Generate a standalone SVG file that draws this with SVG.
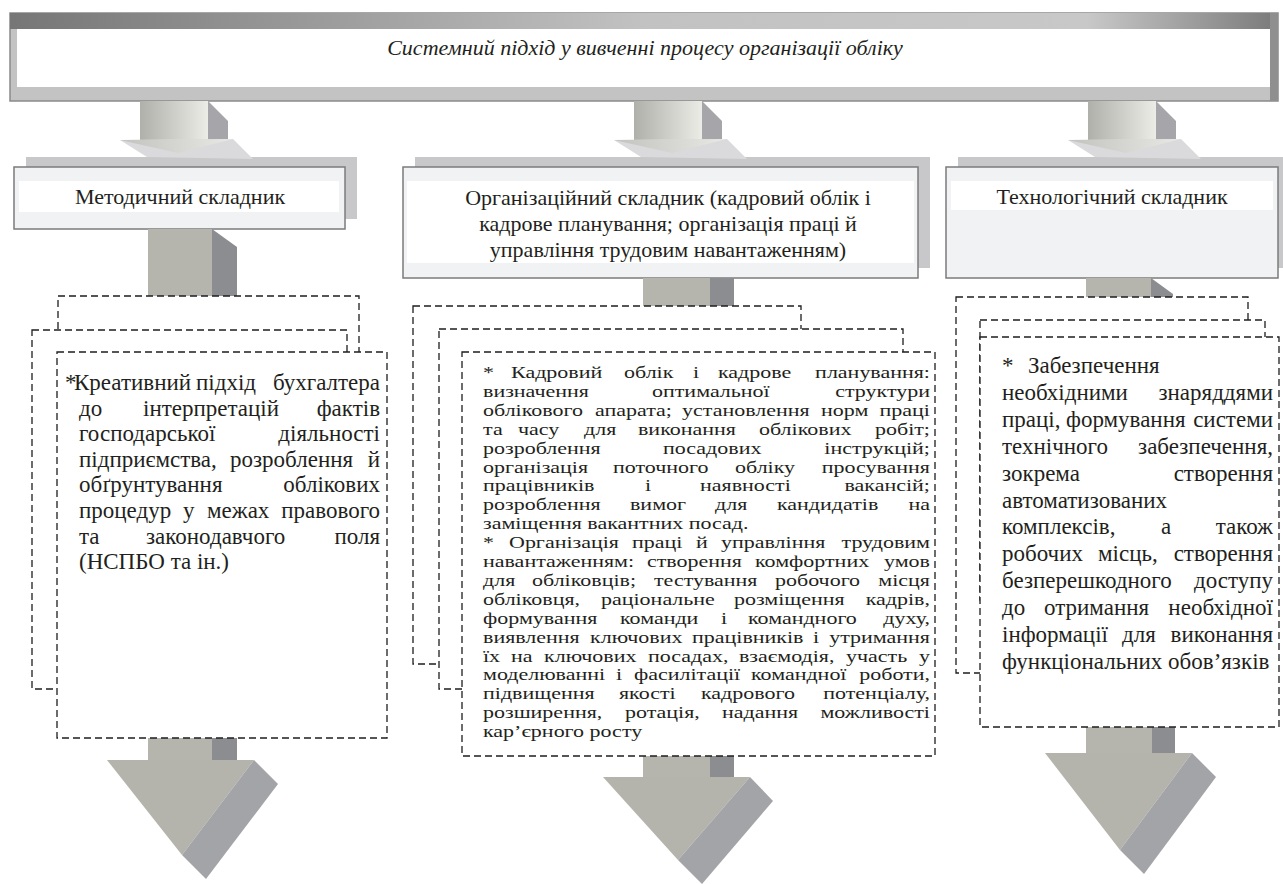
<svg xmlns="http://www.w3.org/2000/svg" width="1283" height="884" viewBox="0 0 1283 884">
<defs>
  <linearGradient id="topBand" x1="0" y1="0" x2="1" y2="0">
    <stop offset="0" stop-color="#767676"/>
    <stop offset="0.5" stop-color="#c2c2c2"/>
    <stop offset="0.85" stop-color="#c8c8c8"/>
    <stop offset="1" stop-color="#7a7a7a"/>
  </linearGradient>
  <linearGradient id="shaft" x1="0" y1="0" x2="1" y2="0">
    <stop offset="0" stop-color="#b0b0aa"/>
    <stop offset="1" stop-color="#ecece6"/>
  </linearGradient>
  <linearGradient id="chev" x1="0" y1="0" x2="1" y2="0">
    <stop offset="0" stop-color="#c2c2be"/>
    <stop offset="1" stop-color="#e8e8e4"/>
  </linearGradient>
</defs>
<style>
  .hdr-shadow{fill:#c8c8ca}
  .hdr-box{fill:#f1f2f4;stroke:#7b7b7b;stroke-width:1.5}
  .hdr-band{fill:#ffffff}
  .dash{fill:#ffffff;stroke:#1e1e1e;stroke-width:1.3;stroke-dasharray:7 4}
  .t{font-family:"Liberation Serif","DejaVu Serif","Times New Roman",serif;fill:#231f20}
  .h{font-size:22px}
  .b23{font-size:23px}
  .b22{font-size:22px}
  .s-light{fill:#b5b5ad}
  .s-dark{fill:#8c8d91}
  .h-light{fill:#b4b4ac}
  .h-dark{fill:#a3a4a8}
  .up-dark{fill:#a6a6aa}
  .chev-low{fill:#dadadc}
</style>

<g id="banner">
  <rect x="10" y="13" width="1268" height="88" fill="#c3c3c3" stroke="#8a8a8a" stroke-width="1.5"/>
  <rect x="10" y="13" width="1268" height="16" fill="url(#topBand)"/>
  <rect x="1270" y="13" width="8" height="88" fill="#8f8f8f"/>
  <rect x="17" y="29" width="1253" height="58" fill="#ffffff"/>
  <text class="t" x="645" y="55" font-size="22" font-style="italic" text-anchor="middle" font-family="Liberation Serif, DejaVu Serif, serif">Системний підхід у вивченні процесу організації обліку</text>
</g>

<g id="header-method">
  <rect class="hdr-shadow" x="26" y="157" width="331" height="62"/>
  <rect class="hdr-box" x="14" y="167" width="331" height="62"/>
  <rect class="hdr-band" x="19" y="181" width="320" height="31"/>
  <text class="t h" x="180" y="204" text-anchor="middle">Методичний складник</text>
</g>

<g id="header-org">
  <rect class="hdr-shadow" x="415" y="157" width="515" height="111"/>
  <rect class="hdr-box" x="403" y="167" width="515" height="111"/>
  <rect class="hdr-band" x="407" y="181" width="507" height="82"/>
  <text class="t h" x="668" y="205" text-anchor="middle">Організаційний складник (кадровий облік і</text>
  <text class="t h" x="668" y="231" text-anchor="middle">кадрове планування; організація праці й</text>
  <text class="t h" x="668" y="257" text-anchor="middle">управління трудовим навантаженням)</text>
</g>

<g id="header-tech">
  <rect class="hdr-shadow" x="958" y="157" width="332" height="111"/>
  <rect class="hdr-box" x="946" y="167" width="332" height="111"/>
  <rect class="hdr-band" x="951" y="181" width="322" height="29"/>
  <text class="t h" x="1112" y="204" text-anchor="middle">Технологічний складник</text>
</g>

<g id="connectors">
  <rect x="140" y="101" width="68" height="41" fill="url(#shaft)"/>
  <polygon class="up-dark" points="208,101 228,121 228,142 208,142"/>
  <polygon class="chev-low" points="120,140 147,157 253,159 233,139"/>
  <polygon fill="url(#chev)" points="120,140 233,139 178,153"/>

  <rect x="634" y="101" width="68" height="41" fill="url(#shaft)"/>
  <polygon class="up-dark" points="702,101 722,121 722,142 702,142"/>
  <polygon class="chev-low" points="614,140 641,157 747,159 727,139"/>
  <polygon fill="url(#chev)" points="614,140 727,139 672,153"/>

  <rect x="1088" y="101" width="68" height="41" fill="url(#shaft)"/>
  <polygon class="up-dark" points="1156,101 1176,121 1176,142 1156,142"/>
  <polygon class="chev-low" points="1068,140 1095,157 1201,159 1181,139"/>
  <polygon fill="url(#chev)" points="1068,140 1181,139 1126,153"/>

  <rect class="s-light" x="148" y="229" width="64" height="67"/>
  <polygon class="s-dark" points="212,229 237,247 237,296 212,296"/>
  <rect class="s-light" x="643" y="278" width="67" height="28"/>
  <rect class="s-dark" x="710" y="278" width="24" height="28"/>
  <rect class="s-light" x="1086" y="278" width="65" height="19"/>
  <polygon class="s-dark" points="1151,278 1173,294 1173,297 1151,297"/>

  <rect class="s-light" x="148" y="738" width="64" height="22"/>
  <rect class="s-dark" x="212" y="738" width="25" height="22"/>
  <polygon class="h-light" points="107,760 254,760 182,855"/>
  <polygon class="h-dark" points="254,760 278,784 206,879 182,855"/>

  <rect class="s-light" x="643" y="756" width="67" height="21"/>
  <rect class="s-dark" x="710" y="756" width="24" height="21"/>
  <polygon class="h-light" points="603,777 750,777 678,860"/>
  <polygon class="h-dark" points="750,777 773,801 702,884 678,860"/>

  <rect class="s-light" x="1086" y="727" width="66" height="26"/>
  <rect class="s-dark" x="1152" y="727" width="23" height="26"/>
  <polygon class="h-light" points="1045,753 1192,753 1120,850"/>
  <polygon class="h-dark" points="1192,753 1216,777 1144,874 1120,850"/>
</g>

<g id="detail-method">
  <rect class="dash" x="58" y="296" width="301" height="304"/>
  <rect class="dash" x="32" y="330" width="315" height="359"/>
  <rect class="dash" x="57" y="352" width="330" height="386"/>
  <text class="t b23" y="390"><tspan x="65">*</tspan><tspan x="74">Креативний</tspan><tspan x="196">підхід</tspan><tspan x="380" text-anchor="end">бухгалтера</tspan></text>
  <text class="t b23" y="415.6"><tspan x="79">до</tspan><tspan x="143">інтерпретацій</tspan><tspan x="380" text-anchor="end">фактів</tspan></text>
  <text class="t b23" y="441.2"><tspan x="79">господарської</tspan><tspan x="380" text-anchor="end">діяльності</tspan></text>
  <text class="t b23" y="466.8"><tspan x="79">підприємства,</tspan><tspan x="230">розроблення</tspan><tspan x="380" text-anchor="end">й</tspan></text>
  <text class="t b23" y="492.4"><tspan x="79">обґрунтування</tspan><tspan x="380" text-anchor="end">облікових</tspan></text>
  <text class="t b23" y="518"><tspan x="79">процедур</tspan><tspan x="183">у</tspan><tspan x="207">межах</tspan><tspan x="380" text-anchor="end">правового</tspan></text>
  <text class="t b23" y="543.6"><tspan x="79">та</tspan><tspan x="146">законодавчого</tspan><tspan x="380" text-anchor="end">поля</tspan></text>
  <text class="t b23" x="79" y="569.2">(НСПБО та ін.)</text>
</g>

<g id="detail-org">
  <rect class="dash" x="413" y="306" width="388" height="358"/>
  <rect class="dash" x="439" y="329" width="464" height="360"/>
  <rect class="dash" x="462" y="352" width="473" height="404"/>
  <g transform="scale(1 0.78)">
  <text class="t b22" y="484.6"><tspan x="483">*</tspan><tspan x="511">Кадровий</tspan><tspan x="624">облік</tspan><tspan x="693">і</tspan><tspan x="718">кадрове</tspan><tspan x="930" text-anchor="end">планування:</tspan></text>
  <text class="t b22" y="508.8"><tspan x="483">визначення</tspan><tspan x="652">оптимальної</tspan><tspan x="930" text-anchor="end">структури</tspan></text>
  <text class="t b22" y="533.1"><tspan x="483">облікового</tspan><tspan x="595">апарата;</tspan><tspan x="682">установлення</tspan><tspan x="821">норм</tspan><tspan x="930" text-anchor="end">праці</tspan></text>
  <text class="t b22" y="557.3"><tspan x="483">та</tspan><tspan x="518">часу</tspan><tspan x="584">для</tspan><tspan x="638">виконання</tspan><tspan x="759">облікових</tspan><tspan x="930" text-anchor="end">робіт;</tspan></text>
  <text class="t b22" y="581.5"><tspan x="483">розроблення</tspan><tspan x="663">посадових</tspan><tspan x="930" text-anchor="end">інструкцій;</tspan></text>
  <text class="t b22" y="605.8"><tspan x="483">організація</tspan><tspan x="613">поточного</tspan><tspan x="735">обліку</tspan><tspan x="930" text-anchor="end">просування</tspan></text>
  <text class="t b22" y="630"><tspan x="483">працівників</tspan><tspan x="645">і</tspan><tspan x="700">наявності</tspan><tspan x="930" text-anchor="end">вакансій;</tspan></text>
  <text class="t b22" y="654.2"><tspan x="483">розроблення</tspan><tspan x="630">вимог</tspan><tspan x="715">для</tspan><tspan x="777">кандидатів</tspan><tspan x="930" text-anchor="end">на</tspan></text>
  <text class="t b22" x="483" y="678.5">заміщення вакантних посад.</text>
  <text class="t b22" y="702.7"><tspan x="483">*</tspan><tspan x="509">Організація</tspan><tspan x="632">праці</tspan><tspan x="696">й</tspan><tspan x="721">управління</tspan><tspan x="930" text-anchor="end">трудовим</tspan></text>
  <text class="t b22" y="726.9"><tspan x="483">навантаженням:</tspan><tspan x="647">створення</tspan><tspan x="755">комфортних</tspan><tspan x="930" text-anchor="end">умов</tspan></text>
  <text class="t b22" y="751.1"><tspan x="483">для</tspan><tspan x="532">обліковців;</tspan><tspan x="654">тестування</tspan><tspan x="775">робочого</tspan><tspan x="930" text-anchor="end">місця</tspan></text>
  <text class="t b22" y="775.4"><tspan x="483">обліковця,</tspan><tspan x="601">раціональне</tspan><tspan x="734">розміщення</tspan><tspan x="930" text-anchor="end">кадрів,</tspan></text>
  <text class="t b22" y="799.6"><tspan x="483">формування</tspan><tspan x="620">команди</tspan><tspan x="721">і</tspan><tspan x="748">командного</tspan><tspan x="930" text-anchor="end">духу,</tspan></text>
  <text class="t b22" y="823.8"><tspan x="483">виявлення</tspan><tspan x="590">ключових</tspan><tspan x="692">працівників</tspan><tspan x="813">і</tspan><tspan x="930" text-anchor="end">утримання</tspan></text>
  <text class="t b22" y="848.1"><tspan x="483">їх</tspan><tspan x="511">на</tspan><tspan x="544">ключових</tspan><tspan x="648">посадах,</tspan><tspan x="739">взаємодія,</tspan><tspan x="846">участь</tspan><tspan x="930" text-anchor="end">у</tspan></text>
  <text class="t b22" y="872.3"><tspan x="483">моделюванні</tspan><tspan x="616">і</tspan><tspan x="634">фасилітації</tspan><tspan x="751">командної</tspan><tspan x="930" text-anchor="end">роботи,</tspan></text>
  <text class="t b22" y="896.5"><tspan x="483">підвищення</tspan><tspan x="619">якості</tspan><tspan x="701">кадрового</tspan><tspan x="930" text-anchor="end">потенціалу,</tspan></text>
  <text class="t b22" y="920.8"><tspan x="483">розширення,</tspan><tspan x="625">ротація,</tspan><tspan x="722">надання</tspan><tspan x="930" text-anchor="end">можливості</tspan></text>
  <text class="t b22" x="483" y="945">кар’єрного росту</text>
  </g>
</g>

<g id="detail-tech">
  <rect class="dash" x="956" y="297" width="292" height="376"/>
  <rect class="dash" x="980" y="320" width="285" height="280"/>
  <rect class="dash" x="980" y="337" width="299" height="390"/>
  <text class="t b23" y="373"><tspan x="1002">*</tspan><tspan x="1028">Забезпечення</tspan></text>
  <text class="t b23" y="399.9"><tspan x="1002">необхідними</tspan><tspan x="1273" text-anchor="end">знаряддями</tspan></text>
  <text class="t b23" y="426.8"><tspan x="1002">праці,</tspan><tspan x="1066">формування</tspan><tspan x="1273" text-anchor="end">системи</tspan></text>
  <text class="t b23" y="453.7"><tspan x="1002">технічного</tspan><tspan x="1273" text-anchor="end">забезпечення,</tspan></text>
  <text class="t b23" y="480.6"><tspan x="1002">зокрема</tspan><tspan x="1273" text-anchor="end">створення</tspan></text>
  <text class="t b23" x="1002" y="507.5">автоматизованих</text>
  <text class="t b23" y="534.4"><tspan x="1002">комплексів,</tspan><tspan x="1161">а</tspan><tspan x="1273" text-anchor="end">також</tspan></text>
  <text class="t b23" y="561.3"><tspan x="1002">робочих</tspan><tspan x="1098">місць,</tspan><tspan x="1273" text-anchor="end">створення</tspan></text>
  <text class="t b23" y="588.2"><tspan x="1002">безперешкодного</tspan><tspan x="1273" text-anchor="end">доступу</tspan></text>
  <text class="t b23" y="615.1"><tspan x="1002">до</tspan><tspan x="1044">отримання</tspan><tspan x="1273" text-anchor="end">необхідної</tspan></text>
  <text class="t b23" y="642"><tspan x="1002">інформації</tspan><tspan x="1122">для</tspan><tspan x="1273" text-anchor="end">виконання</tspan></text>
  <text class="t b23" x="1002" y="668.9">функціональних обов’язків</text>
</g>
</svg>
